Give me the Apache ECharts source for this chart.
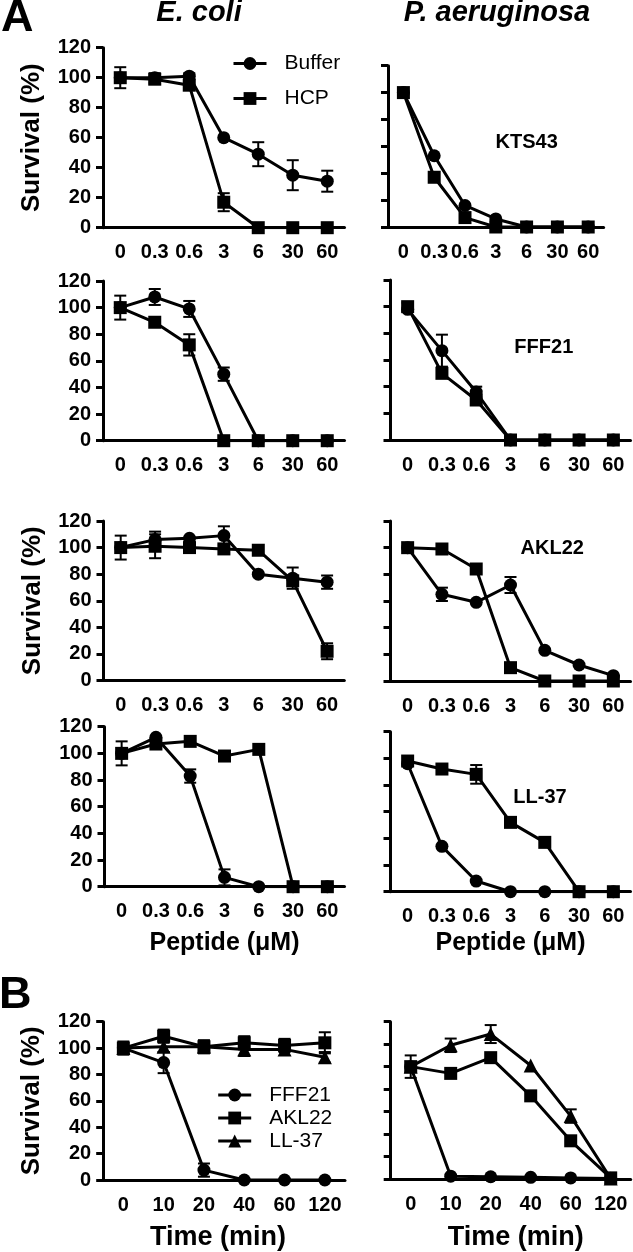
<!DOCTYPE html>
<html><head><meta charset="utf-8">
<script src="https://cdn.jsdelivr.net/npm/echarts@6/dist/echarts.min.js"></script>
<style>html,body{margin:0;padding:0;background:#fff}#c{width:633px;height:1252px}</style>
</head><body><div id="c"></div>
<script>
// ---- categories ----
const doseCats = ['0', '0.3', '0.6', '3', '6', '30', '60'];
const timeCats = ['0', '10', '20', '40', '60', '120'];

// ---- A: E. coli ----
const ecKTS43_Buffer = [100, 100, 101, 60, 49, 35, 31];
const ecKTS43_BufferErr = [0, 3, 2, 0, 8, 10, 7];
const ecKTS43_HCP = [100, 99, 95, 17, 0, 0, 0];
const ecKTS43_HCPErr = [7, 3, 0, 6, 0, 0, 0];

const ecFFF21_Buffer = [100, 108, 99, 50, 0, 0, 0];
const ecFFF21_BufferErr = [0, 6, 6, 5, 0, 0, 0];
const ecFFF21_HCP = [100, 89, 72, 0, 0, 0, 0];
const ecFFF21_HCPErr = [9, 0, 8, 0, 0, 0, 0];

const ecAKL22_Buffer = [100, 106, 107, 109, 80, 77, 74];
const ecAKL22_BufferErr = [0, 6, 0, 7, 0, 8, 5];
const ecAKL22_HCP = [100, 101, 100, 99, 98, 75, 22];
const ecAKL22_HCPErr = [9, 9, 0, 0, 0, 0, 6];

const ecLL37_Buffer = [100, 112, 83, 7, 0, 0, 0];
const ecLL37_BufferErr = [0, 0, 5, 6, 0, 0, 0];
const ecLL37_HCP = [100, 107, 109, 98, 103, 0, 0];
const ecLL37_HCPErr = [9, 0, 0, 0, 0, 0, 0];

// ---- A: P. aeruginosa ----
const paKTS43_Buffer = [100, 53, 16, 6, 0, 0, 0];
const paKTS43_BufferErr = [0, 0, 0, 0, 0, 0, 0];
const paKTS43_HCP = [100, 37, 7, 0, 0, 0, 0];
const paKTS43_HCPErr = [0, 0, 0, 0, 0, 0, 0];

const paFFF21_Buffer = [98, 67, 36, 0, 0, 0, 0];
const paFFF21_BufferErr = [0, 12, 4, 0, 0, 0, 0];
const paFFF21_HCP = [100, 50, 30, 0, 0, 0, 0];
const paFFF21_HCPErr = [3, 0, 0, 0, 0, 0, 0];

const paAKL22_Buffer = [100, 65, 59, 72, 23, 12, 4];
const paAKL22_BufferErr = [0, 5, 0, 6, 0, 0, 0];
const paAKL22_HCP = [100, 99, 84, 10, 0, 0, 0];
const paAKL22_HCPErr = [0, 0, 0, 0, 0, 0, 0];

const paLL37_Buffer = [96, 34, 8, 0, 0, 0, 0];
const paLL37_BufferErr = [0, 0, 0, 0, 0, 0, 0];
const paLL37_HCP = [98, 92, 88, 52, 37, 0, 0];
const paLL37_HCPErr = [0, 0, 7, 0, 0, 0, 0];

// ---- B: time course ----
const ecTime_FFF21 = [100, 89, 7.5, 0, 0, 0];
const ecTime_FFF21Err = [0, 8, 5, 0, 0, 0];
const ecTime_AKL22 = [100, 109, 101, 104, 102, 104];
const ecTime_AKL22Err = [5, 5, 5, 5, 5, 8];
const ecTime_LL37 = [100, 101, 101, 99, 99, 93];
const ecTime_LL37Err = [0, 4, 0, 5, 0, 4];

const paTime_FFF21 = [100, 2.5, 2, 1.5, 1, 0.5];
const paTime_FFF21Err = [0, 0, 0, 0, 0, 0];
const paTime_AKL22 = [100, 94, 108, 74, 34, 1];
const paTime_AKL22Err = [10, 0, 0, 0, 0, 0];
const paTime_LL37 = [100, 119, 129, 101, 56, 0.5];
const paTime_LL37Err = [0, 6, 8, 0, 6, 0];

// ---- text ----
const colTitles = ['E. coli', 'P. aeruginosa'];
const panelTags = ['KTS43', 'FFF21', 'AKL22', 'LL-37'];
const yTitle = 'Survival (%)';
const xTitleDose = 'Peptide (μM)';
const xTitleTime = 'Time (min)';

const FONT = '"Liberation Sans", Arial, Helvetica, sans-serif';

const panels = [
  {grid: {left: 103, top: 47.7, width: 241.5, height: 180}, cats: doseCats, yMax: 120, labels: true, yName: yTitle,
   series: [['Buffer', ecKTS43_Buffer, ecKTS43_BufferErr, 'circle'], ['HCP', ecKTS43_HCP, ecKTS43_HCPErr, 'rect']]},
  {grid: {left: 388, top: 65.7, width: 215.6, height: 161.3}, cats: doseCats, yMax: 120, labels: false,
   series: [['Buffer', paKTS43_Buffer, paKTS43_BufferErr, 'circle'], ['HCP', paKTS43_HCP, paKTS43_HCPErr, 'rect']]},
  {grid: {left: 103, top: 281, width: 241.5, height: 159.7}, cats: doseCats, yMax: 120, labels: true,
   series: [['Buffer', ecFFF21_Buffer, ecFFF21_BufferErr, 'circle'], ['HCP', ecFFF21_HCP, ecFFF21_HCPErr, 'rect']]},
  {grid: {left: 390.5, top: 280, width: 240, height: 160}, cats: doseCats, yMax: 120, labels: false,
   series: [['Buffer', paFFF21_Buffer, paFFF21_BufferErr, 'circle'], ['HCP', paFFF21_HCP, paFFF21_HCPErr, 'rect']]},
  {grid: {left: 103.5, top: 521, width: 240.8, height: 159.5}, cats: doseCats, yMax: 120, labels: true, yName: yTitle,
   series: [['Buffer', ecAKL22_Buffer, ecAKL22_BufferErr, 'circle'], ['HCP', ecAKL22_HCP, ecAKL22_HCPErr, 'rect']]},
  {grid: {left: 390.5, top: 521, width: 240, height: 160}, cats: doseCats, yMax: 120, labels: false,
   series: [['Buffer', paAKL22_Buffer, paAKL22_BufferErr, 'circle'], ['HCP', paAKL22_HCP, paAKL22_HCPErr, 'rect']]},
  {grid: {left: 104.5, top: 726.7, width: 240, height: 160}, cats: doseCats, yMax: 120, labels: true, xName: xTitleDose, xGap: 44,
   series: [['Buffer', ecLL37_Buffer, ecLL37_BufferErr, 'circle'], ['HCP', ecLL37_HCP, ecLL37_HCPErr, 'rect']]},
  {grid: {left: 390.5, top: 731.7, width: 240, height: 160}, cats: doseCats, yMax: 120, labels: false, xName: xTitleDose, xGap: 39,
   series: [['Buffer', paLL37_Buffer, paLL37_BufferErr, 'circle'], ['HCP', paLL37_HCP, paLL37_HCPErr, 'rect']]},
  {grid: {left: 103.2, top: 1021.7, width: 241.8, height: 161}, cats: timeCats, yMax: 120, labels: true, yName: yTitle, xName: xTitleTime, xGap: 44, xNameSize: 27, xNamePad: [0, 12, 0, 0],
   series: [['FFF21', ecTime_FFF21, ecTime_FFF21Err, 'circle'], ['AKL22', ecTime_AKL22, ecTime_AKL22Err, 'rect'], ['LL-37', ecTime_LL37, ecTime_LL37Err, 'triangle']]},
  {grid: {left: 390.7, top: 1021.7, width: 240, height: 160}, cats: timeCats, yMax: 140, labels: false, xName: xTitleTime, xGap: 45, xNameSize: 27, xNamePad: [0, 0, 0, 10],
   series: [['FFF21', paTime_FFF21, paTime_FFF21Err, 'circle'], ['AKL22', paTime_AKL22, paTime_AKL22Err, 'rect'], ['LL-37', paTime_LL37, paTime_LL37Err, 'triangle']]}
];

function renderErr(params, api) {
  const x = api.value(0), lo = api.value(1), hi = api.value(2);
  const p1 = api.coord([x, hi]), p2 = api.coord([x, lo]);
  const w = 6;
  const st = {stroke: '#000', lineWidth: 2};
  return {type: 'group', children: [
    {type: 'line', shape: {x1: p1[0], y1: p1[1], x2: p2[0], y2: p2[1]}, style: st},
    {type: 'line', shape: {x1: p1[0] - w, y1: p1[1], x2: p1[0] + w, y2: p1[1]}, style: st},
    {type: 'line', shape: {x1: p2[0] - w, y1: p2[1], x2: p2[0] + w, y2: p2[1]}, style: st}
  ]};
}

const grid = [], xAxis = [], yAxis = [], series = [];
panels.forEach((p, i) => {
  grid.push(Object.assign({containLabel: false}, p.grid));
  xAxis.push({
    gridIndex: i, type: 'category', data: p.cats, boundaryGap: true,
    axisLine: {lineStyle: {color: '#000', width: 3}},
    axisTick: {alignWithLabel: true, interval: 0, length: 7, lineStyle: {color: '#000', width: 3}},
    axisLabel: {interval: 0, fontSize: 20, fontWeight: 'bold', color: '#000', fontFamily: FONT, margin: 15},
    splitLine: {show: false},
    name: p.xName || '', nameLocation: 'middle', nameGap: p.xGap || 40,
    nameTextStyle: {fontSize: p.xNameSize || 25, fontWeight: 'bold', color: '#000', fontFamily: FONT, padding: p.xNamePad || 0}
  });
  yAxis.push({
    gridIndex: i, type: 'value', min: 0, max: p.yMax, interval: 20,
    axisLine: {show: true, lineStyle: {color: '#000', width: 3}},
    axisTick: {show: true, length: 7, lineStyle: {color: '#000', width: 3}},
    axisLabel: {show: p.labels, fontSize: 20, fontWeight: 'bold', color: '#000', fontFamily: FONT, margin: 12},
    splitLine: {show: false},
    name: p.yName || '', nameLocation: 'middle', nameGap: 58,
    nameTextStyle: {fontSize: 26, fontWeight: 'bold', color: '#000', fontFamily: FONT}
  });
  p.series.forEach(([name, vals, errs, sym]) => {
    const ed = [];
    vals.forEach((v, j) => { if (errs[j] > 0) ed.push([j, v - errs[j], v + errs[j]]); });
    series.push({
      type: 'custom', xAxisIndex: i, yAxisIndex: i, renderItem: renderErr, data: ed,
      encode: {x: 0, y: [1, 2]}, z: 2, silent: true, clip: false
    });
    series.push({
      type: 'line', name: name, xAxisIndex: i, yAxisIndex: i, data: vals,
      symbol: sym, symbolSize: sym === 'triangle' ? 14 : 13, showAllSymbol: true,
      lineStyle: {color: '#000', width: 3}, itemStyle: {color: '#000'}, z: 3, silent: true
    });
  });
});

function legendItem(name, left, cy) {
  return {
    data: [name], orient: 'vertical', left: left, top: cy - 10.5, padding: 0,
    itemWidth: 33, itemHeight: 16, selectedMode: false,
    lineStyle: {width: 3, color: '#000'},
    textStyle: {fontSize: 21, color: '#000', fontFamily: FONT, lineHeight: 21, padding: [0, 0, 0, 13]}
  };
}

function txt(text, x, y, font, align) {
  return {type: 'text', x: x, y: y, silent: true,
    style: {text: text, font: font, fill: '#000', align: align || 'center', verticalAlign: 'middle',
            textAlign: align || 'center', textVerticalAlign: 'middle'}};
}

const option = {
  animation: false,
  backgroundColor: '#fff',
  grid, xAxis, yAxis, series,
  legend: [
    legendItem('Buffer', 232, 63.5),
    legendItem('HCP', 232, 98.5),
    legendItem('FFF21', 216.7, 1095),
    legendItem('AKL22', 216.7, 1118),
    legendItem('LL-37', 216.7, 1141)
  ],
  graphic: [
    txt('A', 1, 19, 'bold 45px ' + FONT, 'left'),
    txt('B', -1, 996, 'bold 45px ' + FONT, 'left'),
    txt(colTitles[0], 199, 12.5, 'italic bold 29px ' + FONT),
    txt(colTitles[1], 497, 12.5, 'italic bold 29px ' + FONT),
    txt(panelTags[0], 526.7, 142.7, 'bold 20px ' + FONT),
    txt(panelTags[1], 543.8, 347, 'bold 20px ' + FONT),
    txt(panelTags[2], 552.2, 548.7, 'bold 20px ' + FONT),
    txt(panelTags[3], 540, 797.8, 'bold 20px ' + FONT)
  ]
};

const chart = echarts.init(document.getElementById('c'), null, {renderer: 'canvas'});
chart.setOption(option);
</script>
</body></html>
